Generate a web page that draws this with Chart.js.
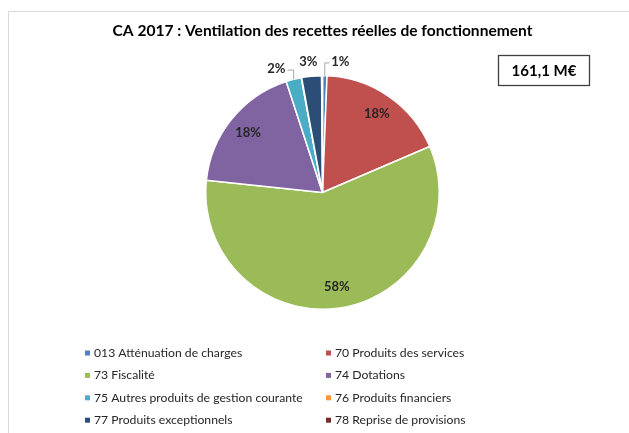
<!DOCTYPE html>
<html><head><meta charset="utf-8">
<script src="https://cdn.jsdelivr.net/npm/chart.js@4"></script>
<style>html,body{margin:0;padding:0;background:#fff}</style>
</head><body>
<canvas id="c" width="629" height="433"></canvas>
<script>
const categories = [
  '013 Atténuation de charges',
  '70 Produits des services',
  '73 Fiscalité',
  '74 Dotations',
  '75 Autres produits de gestion courante',
  '76 Produits financiers',
  '77 Produits exceptionnels',
  '78 Reprise de provisions'
];
const values = [1.0, 28.9, 93.6, 29.5, 3.4, 0.1, 4.4, 0.2];
const colors = ['#4F81BD', '#C0504D', '#9BBB59', '#8064A2', '#4BACC6', '#F79646', '#2C4D75', '#772C2A'];
const chartTitle = 'CA 2017 : Ventilation des recettes réelles de fonctionnement';
const totalLabel = '161,1 M€';

const FONT = 'Lato, "Open Sans", sans-serif';

const framePlugin = {
  id: 'frame',
  beforeDraw(chart) {
    const ctx = chart.ctx;
    ctx.save();
    ctx.fillStyle = '#fff';
    ctx.fillRect(0, 0, chart.width, chart.height);
    ctx.strokeStyle = '#d9d9d9';
    ctx.lineWidth = 1;
    ctx.beginPath();
    ctx.moveTo(8.5, chart.height);
    ctx.lineTo(8.5, 11.5);
    ctx.lineTo(chart.width, 11.5);
    ctx.stroke();
    ctx.restore();
  }
};

const labelsPlugin = {
  id: 'sliceLabels',
  afterDatasetsDraw(chart) {
    const ctx = chart.ctx;
    const meta = chart.getDatasetMeta(0);
    const total = values.reduce((a, b) => a + b, 0);
    const outside = [];
    ctx.save();
    ctx.font = 'bold 13px ' + FONT;
    ctx.fillStyle = '#262626';
    ctx.textAlign = 'center';
    ctx.textBaseline = 'middle';
    meta.data.forEach((arc, i) => {
      const pct = values[i] / total * 100;
      if (pct < 0.5) return;
      const p = arc.getProps(['x', 'y', 'startAngle', 'endAngle', 'outerRadius'], true);
      const mid = (p.startAngle + p.endAngle) / 2;
      const text = Math.round(pct) + '%';
      if (pct >= 5) {
        const r = p.outerRadius * 0.82;
        ctx.fillText(text, p.x + Math.cos(mid) * r, p.y + Math.sin(mid) * r);
      } else {
        const R = p.outerRadius + 15;
        outside.push({
          text, cx: p.x, cy: p.y, R,
          x0: p.x + Math.cos(mid) * R,
          x: p.x + Math.cos(mid) * R,
          y: p.y + Math.sin(mid) * R,
          ax: p.x + Math.cos(mid) * p.outerRadius,
          ay: p.y + Math.sin(mid) * p.outerRadius
        });
      }
    });
    outside.sort((a, b) => a.x - b.x);
    const gap = 32;
    for (let it = 0; it < 60; it++) {
      for (let k = 1; k < outside.length; k++) {
        const a = outside[k - 1], b = outside[k];
        const d = b.x - a.x;
        if (d < gap) {
          const s = (gap - d) / 2;
          a.x -= s; b.x += s;
        }
      }
    }
    outside.forEach(o => {
      const dx = o.x - o.cx;
      const dy = Math.sqrt(Math.max(o.R * o.R - dx * dx, 0));
      o.y = o.ay < o.cy ? o.cy - dy : o.cy + dy;
      const shift = o.x - o.x0;
      if (Math.abs(shift) > 6) {
        const w = ctx.measureText(o.text).width / 2 + 2;
        const ex = shift < 0 ? o.x + w : o.x - w;
        ctx.strokeStyle = '#a6a6a6';
        ctx.lineWidth = 1;
        ctx.beginPath();
        ctx.moveTo(ex, o.y + 1);
        ctx.lineTo(o.ax, o.y + 1);
        ctx.lineTo(o.ax, o.ay);
        ctx.stroke();
      }
      ctx.fillText(o.text, o.x, o.y);
    });
    ctx.restore();
  }
};

const extrasPlugin = {
  id: 'extras',
  afterDraw(chart) {
    const ctx = chart.ctx;
    ctx.save();
    // title, fitted to the reference width
    ctx.fillStyle = '#000';
    ctx.textAlign = 'center';
    ctx.textBaseline = 'alphabetic';
    ctx.font = 'bold 16px ' + FONT;
    const tw = ctx.measureText(chartTitle).width;
    const ts = Math.min(17, 16 * 420 / tw);
    ctx.font = 'bold ' + ts.toFixed(2) + 'px ' + FONT;
    ctx.fillText(chartTitle, 322.5, 36);
    // total box
    ctx.strokeStyle = '#404040';
    ctx.lineWidth = 1.3;
    ctx.strokeRect(498.5, 55.5, 91, 30);
    ctx.font = 'bold 15px ' + FONT;
    ctx.textBaseline = 'middle';
    ctx.fillText(totalLabel, 544, 71);
    // two-column legend
    const items = Chart.overrides.pie.plugins.legend.labels.generateLabels(chart);
    ctx.font = '12.2px ' + FONT;
    ctx.textAlign = 'left';
    items.forEach((it, i) => {
      const col = i % 2, row = Math.floor(i / 2);
      const x = col === 0 ? 85 : 326;
      const y = 353 + row * 22.4;
      ctx.fillStyle = it.fillStyle;
      ctx.fillRect(x, y - 2.5, 5, 5);
      ctx.fillStyle = '#262626';
      ctx.fillText(it.text, x + 9, y);
    });
    ctx.restore();
  }
};

new Chart(document.getElementById('c'), {
  type: 'pie',
  data: {
    labels: categories,
    datasets: [{
      data: values,
      backgroundColor: colors,
      borderColor: '#ffffff',
      borderWidth: 1.5
    }]
  },
  options: {
    responsive: false,
    animation: false,
    devicePixelRatio: 1,
    layout: { padding: { left: 205, right: 189, top: 75, bottom: 123 } },
    plugins: {
      legend: { display: false },
      tooltip: { enabled: false },
      title: { display: false }
    }
  },
  plugins: [framePlugin, labelsPlugin, extrasPlugin]
});
</script>
</body></html>
